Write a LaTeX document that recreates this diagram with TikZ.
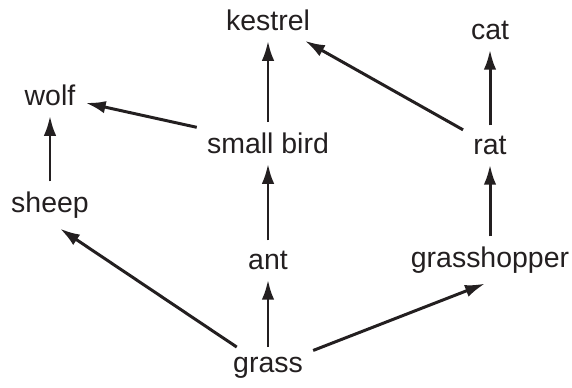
\documentclass[tikz,border=0pt]{standalone}
\usepackage{fontspec}
\setmainfont{Liberation Sans}
\usetikzlibrary{arrows.meta}
\definecolor{ink}{HTML}{231F20}
\tikzset{
    every node/.style={font=\fontsize{16.2}{19}\selectfont, text=ink},
    sp/.style={inner sep=0.2cm},
    eats/.style={-{Latex[length=0.4cm,width=0.25cm]}, line width=1.7pt, draw=ink}
}
\begin{document}
\begin{tikzpicture}
\useasboundingbox (0,0) rectangle (11.44,7.74);

\node[sp] at (5.36,7.34) (kestrel) {kestrel};
\node[sp] at (9.8,7.14) (cat) {cat};

\node[sp] at (1.0,5.84) (wolf) {wolf};
\node[sp] at (5.36,4.88) (bird) {small bird};
\node[sp] at (9.8,4.84) (rat) {rat};

\node[sp] at (1.0,3.64) (sheep) {sheep};
\node[sp] at (5.36,2.54) (ant) {ant};
\node[sp] at (9.8,2.54) (hopper) {grasshopper};

\node[sp] at (5.36,0.38) (grass) {grass};

\draw[eats] (sheep) -- (wolf);
\draw[eats] (bird) -- (wolf);
\draw[eats] (bird) -- (kestrel);
\draw[eats] (ant) -- (bird);
\draw[eats] (grass) -- (ant);
\draw[eats] (grass) -- ([xshift=0.2cm]sheep.south);
\draw[eats] (grass) -- ([xshift=-0.1cm]hopper.south);
\draw[eats] (hopper) -- (rat);
\draw[eats] (rat) -- (cat);
\draw[eats] (rat) -- (kestrel);
\end{tikzpicture}
\end{document}
